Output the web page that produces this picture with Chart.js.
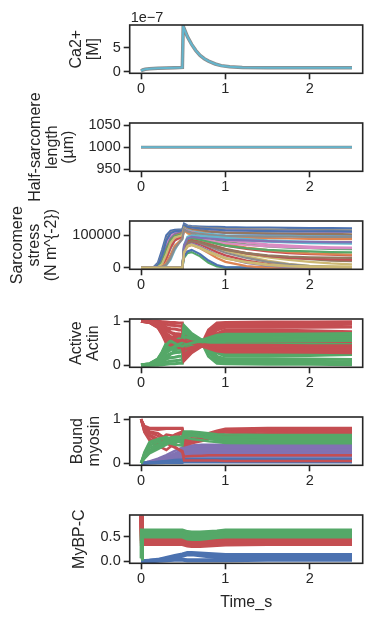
<!DOCTYPE html>
<html lang="en">
<head>
<meta charset="UTF-8">
<title>Half-sarcomere simulation</title>
<script src="https://cdn.jsdelivr.net/npm/chart.js@4.4.0/dist/chart.umd.min.js"></script>
<style>
  body { margin: 0; background: #fff; width: 372px; height: 622px; position: relative; overflow: hidden; }
  canvas { position: absolute; left: 0; }
</style>
</head>
<body>
<canvas id="p0"></canvas>
<canvas id="p1"></canvas>
<canvas id="p2"></canvas>
<canvas id="p3"></canvas>
<canvas id="p4"></canvas>
<canvas id="p5"></canvas>
<script>
// seaborn "deep" colours
const BLUE = '#4C72B0', ORANGE = '#DD8452', GREEN = '#55A868', RED = '#C44E52', PURPLE = '#8172B3',
      BROWN = '#937860', PINK = '#DA8BC3', GREY = '#8C8C8C', OLIVE = '#CCB974', CYAN = '#64B5CD';

const xTicks = [0, 1, 2];

// Ca2+ (units of 1e-7 M)
const timeCa = [0, 0.02, 0.05, 0.1, 0.2, 0.3, 0.4, 0.49, 0.5, 0.52, 0.55, 0.6, 0.65, 0.7, 0.75, 0.8, 0.88, 0.95, 1.05, 1.2, 1.5, 2.0, 2.5];
const caConc = [0.15, 0.35, 0.5, 0.6, 0.7, 0.76, 0.82, 0.88, 9.5, 8.6, 7.3, 5.7, 4.4, 3.4, 2.7, 2.2, 1.6, 1.25, 1.0, 0.88, 0.82, 0.8, 0.8];
const caTicks = [0, 5];

// half-sarcomere length
const timeLen = [0, 0.5, 1, 1.5, 2, 2.5];
const hsLength = [1000, 1000, 1000, 1000, 1000, 1000];
const lenTicks = [950, 1000, 1050];

// sarcomere stress, in thousands of N m^-2
const timeStress = [0, 0.1, 0.15, 0.2, 0.25, 0.3, 0.35, 0.4, 0.49, 0.51, 0.55, 0.6, 0.7, 0.8, 0.9, 1.0, 1.25, 1.5, 1.75, 2.0, 2.25, 2.5];
const stressK = [
  [0,0,2,15,55,100,114,117,118, 136,130,128,127,126,126,125,124,124,123,122,122,121],
  [0,0,1,10,42,88,108,113,116, 132,128,126,124,122,121,120,119,118,117,116,116,115],
  [0,0,0,6,32,76,99,107,112, 128,124,122,120,118,116,115,114,113,112,111,110,110],
  [0,0,0,4,24,62,90,103,110, 126,120,117,114,111,109,107,105,104,103,102,101,100],
  [0,0,0,3,20,58,86,99,108, 125,121,118,115,112,110,108,107,106,105,104,104,103],
  [0,0,1,8,38,84,106,112,115, 130,126,124,121,119,117,115,114,113,112,112,112,111],
  [0,0,0,2,14,48,80,97,106, 124,118,114,110,105,100,96,93,91,90,89,88,88],
  [0,0,0,0,2,8,25,55,95, 121,116,112,108,104,102,100,99,98,98,97,97,96],
  [0,0,0,1,7,28,58,84,102, 122,115,110,104,98,93,88,83,80,78,76,75,74],
  [0,0,0,2,16,52,83,97,104, 122,114,108,100,92,85,80,72,66,62,60,58,57],
  [0,0,0,1,9,38,73,91,100, 120,114,110,104,96,90,85,78,72,68,65,63,62],
  [0,0,0,0,5,28,62,84,96, 118,110,102,92,82,74,68,58,50,45,42,40,38],
  [0,0,0,1,11,42,76,93,100, 118,106,96,85,74,64,55,42,32,24,18,13,10],
  [0,0,0,0,3,15,40,68,90, 115,108,101,92,84,78,72,62,54,48,44,42,40],
  [0,0,0,0,2,10,30,60,88, 118,112,108,104,101,99,98,97,96,96,95,95,95],
  [0,0,0,0,0,0,0,0,0, 30,45,48,35,15,4,0,0,0,0,0,0,0],
  [0,0,0,0,0,0,0,0,0, 35,50,55,42,22,8,2,0,0,0,0,0,0],
  [0,0,0,0,0,0,0,0,0, 45,65,70,60,45,30,18,5,0,0,0,0,0],
  [0,0,0,0,0,0,0,0,0, 55,75,80,72,60,48,38,22,12,6,3,1,0],
  [0,0,0,0,0,0,0,0,0, 50,70,75,65,52,40,30,15,6,2,0,0,0],
  [0,0,0,0,0,0,0,0,0, 60,82,88,82,74,66,58,45,36,30,26,22,20],
  [0,0,0,0,0,0,0,0,0, 62,85,90,82,72,62,52,35,22,12,6,4,3],
  [0,0,0,0,0,0,0,0,0, 58,78,84,76,66,56,46,30,18,10,5,2,1],
  [0,0,0,0,0,0,0,0,0, 65,88,92,88,84,80,76,70,66,63,61,60,60],
  [0,0,0,0,0,0,0,0,0, 60,82,86,80,72,64,56,44,36,31,28,26,25],
  [0,0,0,0,0,0,0,0,0, 70,95,100,98,96,94,92,88,84,82,80,79,78],
  [0,0,0,0,0,0,0,0,0, 66,88,92,86,80,74,68,60,55,52,50,48,47],
  [0,0,0,0,0,0,0,0,0, 50,68,72,62,50,40,30,16,8,4,2,1,0],
  [0,0,0,0,0,0,0,0,0, 55,78,82,78,70,62,55,45,38,34,32,31,30],
  [0,0,0,0,0,0,0,0,0, 68,90,95,92,90,88,86,84,82,80,80,79,79],
  [0,0,0,0,0,0,0,0,0, 48,66,70,60,48,38,28,18,10,6,4,3,2]
];
const stressColors = [BLUE, GREY, PINK, PURPLE, BROWN, BLUE, ORANGE, CYAN, CYAN, GREEN, PINK, RED, OLIVE, ORANGE, GREY,
                      GREEN, BLUE, ORANGE, RED, PURPLE, BROWN, OLIVE, GREY, PINK, RED, CYAN, GREEN, OLIVE, BROWN, PURPLE, OLIVE];
const stressTicks = [0, 100000];

// active actin (red = off, green = on)
const timeActin = [0, 0.1, 0.2, 0.25, 0.3, 0.35, 0.4, 0.45, 0.49, 0.51, 0.6, 0.72, 0.8, 0.9, 1.0, 1.5, 2.0, 2.5];
const actinOff = [
  [1.0,1.0,1.0,.99,.98,.97,.97,.96,.96,.72,.60,.48,.80,.96,.97,.98,.98,.99],
  [1.0,1.0,.99,.97,.93,.91,.90,.89,.88,.62,.52,.46,.72,.90,.94,.94,.95,.96],
  [1.0,.99,.97,.93,.86,.83,.82,.80,.80,.45,.48,.45,.66,.85,.90,.90,.91,.93],
  [1.0,.99,.95,.88,.78,.74,.72,.71,.70,.30,.38,.44,.60,.80,.86,.86,.86,.87],
  [1.0,.97,.86,.70,.50,.62,.66,.58,.55,.15,.30,.45,.55,.72,.80,.80,.78,.76],
  [1.0,.99,.93,.82,.66,.60,.62,.64,.63,.50,.48,.46,.55,.68,.75,.75,.74,.72],
  [1.0,1.0,.98,.94,.84,.75,.68,.70,.68,.68,.55,.44,.50,.62,.70,.71,.72,.72],
  [1.0,.98,.88,.75,.52,.45,.55,.48,.45,.20,.35,.45,.48,.50,.51,.52,.52,.53],
  [1.0,.99,.93,.80,.60,.55,.45,.40,.42,.25,.35,.44,.45,.45,.45,.45,.44,.44],
  [1.0,.97,.86,.72,.54,.44,.50,.55,.50,.35,.40,.44,.42,.40,.40,.40,.39,.38],
  [1.0,.98,.91,.78,.58,.62,.58,.52,.48,.10,.28,.43,.40,.36,.35,.35,.34,.33],
  [1.0,.99,.95,.87,.72,.65,.58,.55,.57,.55,.50,.44,.38,.32,.30,.30,.29,.28]
];
const actinOn = [
  [0,0,0,.01,.02,.03,.03,.04,.04,.28,.40,.52,.20,.04,.03,.02,.02,.01],
  [0,0,.01,.03,.07,.09,.10,.11,.12,.38,.48,.54,.28,.10,.06,.06,.05,.04],
  [0,.01,.03,.07,.14,.17,.18,.20,.20,.55,.52,.55,.34,.15,.10,.10,.09,.07],
  [0,.01,.05,.12,.22,.26,.28,.29,.30,.70,.62,.56,.40,.20,.14,.14,.14,.13],
  [0,.03,.14,.30,.50,.38,.34,.42,.45,.85,.70,.55,.45,.28,.20,.20,.22,.24],
  [0,.01,.07,.18,.34,.40,.38,.36,.37,.50,.52,.54,.45,.32,.25,.25,.26,.28],
  [0,0,.02,.06,.16,.25,.32,.30,.32,.32,.45,.56,.50,.38,.30,.29,.28,.28],
  [0,.02,.12,.25,.48,.55,.45,.52,.55,.80,.65,.55,.52,.50,.49,.48,.48,.47],
  [0,.01,.07,.20,.40,.45,.55,.60,.58,.75,.65,.56,.55,.55,.55,.55,.56,.56],
  [0,.03,.14,.28,.46,.56,.50,.45,.50,.65,.60,.56,.58,.60,.60,.60,.61,.62],
  [0,.02,.09,.22,.42,.38,.42,.48,.52,.90,.72,.57,.60,.64,.65,.65,.66,.67],
  [0,.01,.05,.13,.28,.35,.42,.45,.43,.45,.50,.56,.62,.68,.70,.70,.71,.72]
];

// bound myosin
const timeMyo = [0, 0.04, 0.1, 0.2, 0.3, 0.4, 0.49, 0.51, 0.6, 0.72, 0.8, 0.9, 1.0, 1.5, 2.0, 2.5];
const myoRed = [
  [1,.85,.80,.80,.80,.80,.80,.62,.60,.62,.68,.74,.78,.80,.80,.80],
  [1,.82,.78,.76,.78,.78,.78,.55,.55,.58,.64,.70,.75,.77,.78,.78],
  [1,.78,.70,.62,.50,.65,.72,.50,.52,.56,.62,.68,.72,.74,.75,.75],
  [1,.75,.62,.50,.65,.62,.50,.45,.48,.55,.60,.65,.70,.72,.72,.73],
  [1,.72,.55,.45,.48,.60,.68,.48,.50,.52,.56,.60,.65,.68,.70,.70],
  [1,.70,.52,.40,.30,.45,.55,.40,.45,.50,.55,.58,.62,.65,.67,.68],
  [1,.80,.65,.55,.45,.35,.28,.15,.16,.17,.18,.18,.18,.18,.18,.18],
  [1,.84,.72,.68,.55,.38,.25,.06,.06,.06,.06,.06,.05,.05,.05,.05]
];
const myoGreen = [
  [0,.15,.30,.38,.45,.55,.60,.72,.72,.70,.68,.66,.65,.64,.64,.64],
  [0,.12,.25,.35,.48,.42,.40,.70,.70,.68,.66,.62,.60,.60,.60,.60],
  [0,.18,.35,.42,.50,.52,.45,.68,.68,.66,.62,.58,.56,.55,.55,.55],
  [0,.20,.40,.48,.46,.45,.55,.66,.66,.64,.62,.60,.58,.57,.57,.57],
  [0,.22,.45,.52,.56,.60,.60,.64,.64,.62,.60,.56,.53,.52,.52,.52],
  [0,.25,.48,.55,.60,.50,.55,.60,.62,.60,.57,.53,.50,.49,.49,.49],
  [0,.14,.28,.38,.55,.58,.50,.70,.66,.60,.56,.52,.48,.47,.47,.47],
  [0,.10,.22,.32,.42,.55,.58,.58,.55,.52,.50,.48,.46,.45,.45,.45]
];
const myoPurple = [
  [0,.01,.04,.10,.18,.28,.35,.38,.40,.42,.42,.42,.42,.42,.42,.42],
  [0,.01,.03,.08,.14,.22,.30,.36,.38,.38,.38,.38,.38,.38,.38,.38],
  [0,.01,.03,.07,.12,.19,.26,.34,.35,.35,.35,.35,.34,.34,.34,.34],
  [0,0,.02,.05,.09,.15,.22,.32,.32,.32,.32,.31,.31,.31,.30,.30],
  [0,0,.02,.04,.07,.12,.18,.28,.28,.28,.28,.28,.28,.27,.27,.27],
  [0,0,.01,.03,.05,.09,.14,.24,.25,.25,.24,.24,.24,.24,.24,.24],
  [0,0,.01,.02,.04,.07,.11,.20,.20,.20,.20,.20,.20,.20,.20,.20],
  [0,0,.01,.02,.03,.05,.08,.15,.15,.15,.15,.15,.15,.15,.15,.15]
];
const myoBlue = [
  [0,0,.01,.03,.05,.07,.08,.10,.10,.10,.10,.10,.10,.10,.10,.10],
  [0,0,.01,.02,.03,.05,.06,.08,.08,.08,.08,.08,.08,.08,.08,.08],
  [0,0,0,.01,.02,.03,.04,.06,.06,.06,.06,.06,.06,.06,.06,.06],
  [0,0,0,.01,.01,.02,.02,.04,.04,.04,.04,.04,.04,.04,.04,.04],
  [0,0,0,0,.01,.01,.01,.02,.02,.02,.02,.02,.02,.02,.02,.02]
];

// MyBP-C states
const timeMybpc = [0, 0.01, 0.1, 0.2, 0.3, 0.4, 0.49, 0.55, 0.6, 0.7, 0.8, 0.9, 1.0, 1.5, 2.0, 2.5];
const mybpcBlue = [
  [0,0,.01,.03,.07,.11,.14,.17,.17,.16,.15,.14,.13,.13,.13,.13],
  [0,0,.01,.02,.05,.08,.11,.14,.14,.12,.10,.08,.08,.08,.08,.08],
  [0,0,0,.01,.02,.03,.03,.02,.02,.02,.02,.02,.02,.03,.03,.03]
];
const mybpcRed = [
  [.92,.45,.45,.45,.45,.45,.45,.42,.41,.41,.42,.43,.44,.45,.45,.45],
  [.92,.40,.40,.40,.40,.40,.40,.37,.36,.36,.37,.38,.39,.40,.40,.40],
  [.92,.35,.35,.35,.35,.35,.35,.32,.31,.31,.32,.33,.34,.35,.35,.35]
];
const mybpcGreen = [
  [.06,.62,.62,.62,.62,.62,.62,.59,.58,.58,.59,.60,.62,.62,.62,.62],
  [.06,.56,.56,.56,.56,.56,.56,.52,.51,.51,.53,.55,.56,.56,.56,.56],
  [.06,.50,.50,.50,.50,.50,.50,.46,.45,.45,.47,.49,.50,.50,.50,.50]
];
const fracTicks = [0, 1];
const mybpcTicks = [0, 0.5];

// ---- layout ----
const INK = '#262626';
const PLOT_L = 129.7, PLOT_R = 362.7, PLOT_H = 48.3, PAD_TOP = 40;
const X_MIN = -0.134, X_MAX = 2.627;
Chart.defaults.font.family = '"Liberation Sans", Arial, sans-serif';
Chart.defaults.color = INK;

const framePlugin = {
  id: 'frame',
  afterDraw(chart, args, opts) {
    const { ctx, chartArea: a } = chart;
    ctx.save();
    ctx.strokeStyle = INK;
    ctx.lineWidth = 1.6;
    ctx.strokeRect(a.left, a.top, a.right - a.left, a.bottom - a.top);
    if (opts.offsetText) {
      ctx.fillStyle = INK;
      ctx.font = '14.5px "Liberation Sans", Arial, sans-serif';
      ctx.textBaseline = 'alphabetic';
      ctx.fillText(opts.offsetText, a.left + 1, a.top - 3);
    }
    ctx.restore();
  }
};

function line(times, vals, color, width, scale) {
  return {
    data: times.map((t, i) => ({ x: t, y: vals[i] * (scale || 1) })),
    borderColor: color, borderWidth: width, pointRadius: 0, tension: 0, fill: false
  };
}

function panel(id, plotTop, bottomEdge, cfg) {
  const cv = document.getElementById(id);
  const top = plotTop - PAD_TOP;
  const h = bottomEdge - top;
  cv.width = 372; cv.height = h;
  cv.style.top = top + 'px';
  const tickGrid = { display: true, drawOnChartArea: false, drawTicks: true, tickLength: 6, tickWidth: 1.6, tickColor: INK };
  // Chart.js puts the first dataset on top; reverse so later lines draw over earlier ones, like matplotlib
  const sets = cfg.datasets.slice().reverse();
  return new Chart(cv, {
    type: 'line',
    data: { datasets: sets },
    options: {
      responsive: false, animation: false, devicePixelRatio: 1,
      layout: { padding: { left: cfg.padLeft, right: 372 - PLOT_R, top: PAD_TOP, bottom: 0 } },
      plugins: { legend: { display: false }, tooltip: { enabled: false }, frame: { offsetText: cfg.offsetText } },
      scales: {
        x: {
          type: 'linear', min: X_MIN, max: X_MAX,
          afterBuildTicks: s => { s.ticks = xTicks.map(v => ({ value: v })); },
          afterFit: s => { s.height = h - PAD_TOP - PLOT_H; },
          grid: tickGrid, border: { display: false },
          ticks: { padding: 2, font: { size: 14.5, lineHeight: 1 }, color: INK, maxRotation: 0, autoSkip: false },
          title: cfg.xTitle ? { display: true, text: cfg.xTitle, color: INK, font: { size: 16, lineHeight: 1 }, padding: { top: 0, bottom: 11.5 } } : { display: false }
        },
        y: {
          type: 'linear', min: cfg.yMin, max: cfg.yMax,
          afterBuildTicks: s => { s.ticks = cfg.yTicks.map(v => ({ value: v })); },
          afterFit: s => { s.width = PLOT_L - cfg.padLeft; },
          grid: tickGrid, border: { display: false },
          ticks: { padding: 3, font: { size: 14.5, lineHeight: 1 }, color: INK, autoSkip: false, callback: cfg.tickFmt },
          title: { display: true, text: cfg.label, color: INK, font: { size: 16, lineHeight: 1.05 }, padding: 0 }
        }
      }
    },
    plugins: [framePlugin]
  });
}

const plotTops = [25, 123.3, 220.5, 319, 416.7, 515];

panel('p0', plotTops[0], plotTops[0] + 95, {
  label: ['Ca2+', '[M]'], padLeft: 68, yMin: -0.35, yMax: 9.75, yTicks: caTicks,
  tickFmt: v => String(v), offsetText: '1e\u22127',
  datasets: [line(timeCa, caConc, GREY, 3.5), line(timeCa, caConc, CYAN, 2)]
});

panel('p1', plotTops[1], plotTops[1] + 95, {
  label: ['Half-sarcomere', 'length', '(\u00b5m)'], padLeft: 27, yMin: 945, yMax: 1055, yTicks: lenTicks,
  tickFmt: v => String(v),
  datasets: [line(timeLen, hsLength, GREY, 3), line(timeLen, hsLength, CYAN, 1.6)]
});

panel('p2', plotTops[2], plotTops[2] + 95, {
  label: ['Sarcomere', 'stress', '(N m^{-2})'], padLeft: 9.5, yMin: -5000, yMax: 144000, yTicks: stressTicks,
  tickFmt: v => String(v),
  datasets: stressK.map((s, i) => line(timeStress, s, stressColors[i], 2.2, 1000))
});

const actinSets = [];
actinOff.forEach((s, i) => {
  actinSets.push(line(timeActin, s, RED, 3));
  actinSets.push(line(timeActin, actinOn[i], GREEN, 3));
});
panel('p3', plotTops[3], plotTops[3] + 95, {
  label: ['Active', 'Actin'], padLeft: 68, yMin: -0.05, yMax: 1.05, yTicks: fracTicks,
  tickFmt: v => String(v), datasets: actinSets
});

panel('p4', plotTops[4], plotTops[4] + 95, {
  label: ['Bound', 'myosin'], padLeft: 69, yMin: -0.05, yMax: 1.05, yTicks: fracTicks,
  tickFmt: v => String(v),
  datasets: [
    ...myoPurple.map(s => line(timeMyo, s, PURPLE, 2.5)),
    ...myoBlue.map(s => line(timeMyo, s, BLUE, 2.5)),
    ...myoRed.map(s => line(timeMyo, s, RED, 2.5)),
    ...myoGreen.map(s => line(timeMyo, s, GREEN, 2.5))
  ]
});

panel('p5', plotTops[5], 622, {
  label: 'MyBP-C', padLeft: 71.5, yMin: -0.04, yMax: 0.935, yTicks: mybpcTicks,
  tickFmt: v => v.toFixed(1), xTitle: 'Time_s',
  datasets: [
    ...mybpcBlue.map(s => line(timeMybpc, s, BLUE, 4)),
    ...mybpcRed.map(s => line(timeMybpc, s, RED, 4)),
    ...mybpcGreen.map(s => line(timeMybpc, s, GREEN, 4))
  ]
});
</script>
</body>
</html>
